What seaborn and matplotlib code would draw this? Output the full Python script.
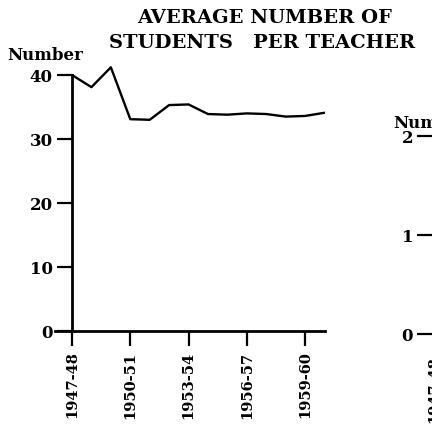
import matplotlib
matplotlib.use("Agg")
import matplotlib.pyplot as plt
import seaborn as sns
import pandas as pd

# ---- data ----
school_years = ["1947-48", "1948-49", "1949-50", "1950-51", "1951-52", "1952-53",
                "1953-54", "1954-55", "1955-56", "1956-57", "1957-58", "1958-59",
                "1959-60", "1960-61"]
students_per_teacher = [40.0, 38.1, 41.2, 33.1, 33.0, 35.3, 35.4, 33.9, 33.8,
                        34.0, 33.9, 33.5, 33.6, 34.1]
y_ticks = [0, 10, 20, 30, 40]
x_tick_labels = ["1947-48", "1950-51", "1953-54", "1956-57", "1959-60"]
right_y_ticks = [0, 1, 2]
right_x_tick_labels = ["1947-48"]

df = pd.DataFrame({"idx": range(len(school_years)),
                   "year": school_years,
                   "value": students_per_teacher})
x_tick_pos = [school_years.index(l) for l in x_tick_labels]
right_x_tick_pos = [school_years.index(l) for l in right_x_tick_labels]

sns.set_theme(style="white")
plt.rcParams["font.family"] = ["DejaVu Serif", "DejaVu Sans"]
plt.rcParams["font.weight"] = "bold"

W, H = 432, 431
fig = plt.figure(figsize=(W / 100, H / 100), dpi=100)
fig.patch.set_facecolor("white")

# main axes
ax = fig.add_axes([55.5 / W, (H - 332) / H, 269 / W, (332 - 63.2) / H])
sns.lineplot(data=df, x="idx", y="value", color="black", lw=1.7, ax=ax)
ax.set_xlim(-0.85, 13.0)
ax.set_ylim(0, 42)
for s in ["top", "right"]:
    ax.spines[s].set_visible(False)
ax.spines["left"].set_position(("data", 0))
ax.spines["left"].set_bounds(0, 40)
for s in ["left", "bottom"]:
    ax.spines[s].set_color("black")
    ax.spines[s].set_linewidth(2.0)
ax.set_yticks(y_ticks)
ax.set_yticklabels([str(v) for v in y_ticks], fontsize=12, fontweight="bold")
ax.set_xticks(x_tick_pos)
ax.set_xticklabels(x_tick_labels, rotation=90, fontsize=10.5, fontweight="bold")
ax.tick_params(axis="both", direction="out", length=11, width=1.6, color="black",
               colors="black", pad=3, left=True, bottom=True)
ax.set_xlabel("")
ax.set_ylabel("")
ax.set_facecolor("white")

# partial right-hand panel (cut by the figure edge, as in the reference)
ax2 = fig.add_axes([434 / W, (H - 335) / H, 0.3, (335 - 117) / H])
ax2.set_xlim(0, 13)
ax2.set_ylim(0, 2.2)
for s in ["top", "right"]:
    ax2.spines[s].set_visible(False)
for s in ["left", "bottom"]:
    ax2.spines[s].set_color("black")
    ax2.spines[s].set_linewidth(2.0)
ax2.set_yticks(right_y_ticks)
ax2.set_yticklabels([str(v) for v in right_y_ticks], fontsize=12, fontweight="bold")
ax2.set_xticks(right_x_tick_pos)
ax2.set_xticklabels(right_x_tick_labels, rotation=90, fontsize=10.5, fontweight="bold")
ax2.tick_params(axis="both", direction="out", length=12, width=1.6, color="black",
                colors="black", pad=3, left=True, bottom=True)
ax2.set_facecolor("white")

# texts
fig.text(265 / W, 1 - 18 / H, "AVERAGE NUMBER OF", ha="center", va="center",
         fontsize=14, fontweight="bold", color="black")
fig.text(262 / W, 1 - 43 / H, "STUDENTS   PER TEACHER", ha="center", va="center",
         fontsize=14, fontweight="bold", color="black")
fig.text(45 / W, 1 - 55 / H, "Number", ha="center", va="center",
         fontsize=12, fontweight="bold", color="black")
fig.text(393 / W, 1 - 123 / H, "Number", ha="left", va="center",
         fontsize=12, fontweight="bold", color="black")

fig.savefig("out.png", dpi=100, facecolor="white")
